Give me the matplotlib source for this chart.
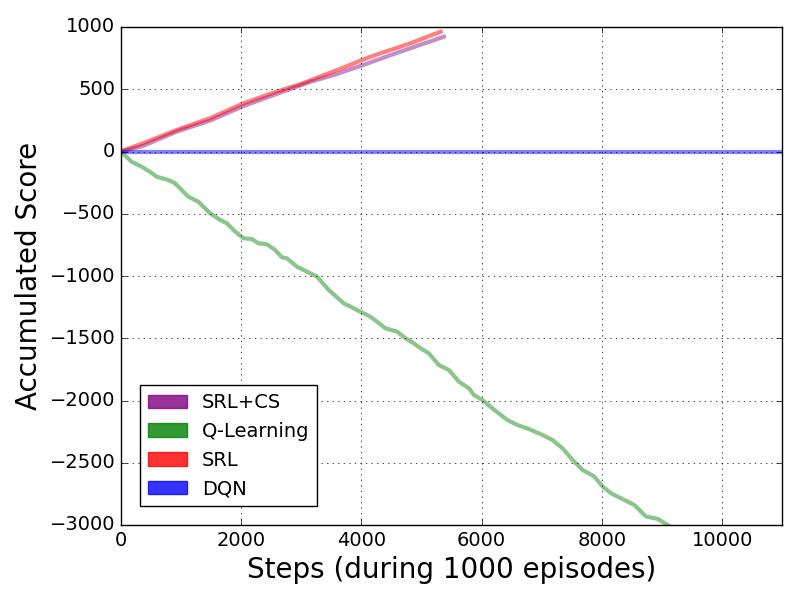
import numpy as np
import matplotlib
matplotlib.use('Agg')
import matplotlib.pyplot as plt
import matplotlib.patches as mpatches

plt.style.use('classic')

# accumulated score curves
srl_cs_x = [0, 370, 928, 1483, 2039, 2594, 3150, 3539, 3983, 4261, 4650, 4817, 5372]
srl_cs_y = [0, 45, 160, 248, 365, 463, 560, 614, 687, 735, 802, 830, 922]

ql_x = [0, 178, 345, 483, 594, 789, 900, 1011, 1122, 1289, 1483, 1650, 1761,
        1900, 2039, 2178, 2289, 2428, 2567, 2678, 2761, 2928, 3150, 3261,
        3456, 3706, 3928, 4150, 4261, 4400, 4594, 4733, 4844, 5011, 5122,
        5289, 5456, 5622, 5789, 5872, 6011, 6178, 6428, 6594, 6761, 7011,
        7178, 7344, 7511, 7678, 7872, 8011, 8150, 8372, 8539, 8733, 8928,
        9094, 9150]
ql_y = [0, -82, -122, -162, -202, -229, -255, -309, -363, -403, -496, -549,
        -576, -643, -697, -703, -737, -745, -791, -850, -858, -925, -978,
        -1005, -1112, -1219, -1273, -1327, -1367, -1420, -1447, -1500, -1532,
        -1589, -1621, -1715, -1755, -1849, -1902, -1956, -1996, -2063, -2157,
        -2197, -2224, -2277, -2317, -2384, -2477, -2558, -2611, -2691, -2745,
        -2799, -2839, -2932, -2951, -3000, -3020]

srl_x = [0, 370, 928, 1483, 2039, 2594, 2983, 3706, 4011, 4261, 4650, 4817, 5317]
srl_y = [0, 66, 173, 267, 387, 482, 540, 675, 735, 780, 842, 870, 962]

dqn_x = [0, 12000]
dqn_y = [0, 0]

labels = ['SRL+CS', 'Q-Learning', 'SRL', 'DQN']
colors = ['purple', 'g', 'r', 'b']

fig = plt.figure(figsize=(8, 6), dpi=100)
ax = fig.add_subplot(111)
fig.subplots_adjust(left=0.151, right=0.978, top=0.955, bottom=0.125)

ax.plot(srl_cs_x, srl_cs_y, color='purple', alpha=0.45, lw=3)
ax.plot(ql_x, ql_y, color='g', alpha=0.45, lw=3)
ax.plot(srl_x, srl_y, color='r', alpha=0.5, lw=3)
ax.plot(dqn_x, dqn_y, color='b', alpha=0.5, lw=3)

ax.set_xlim(0, 11000)
ax.set_ylim(-3000, 1000)
ax.grid(True)
ax.tick_params(labelsize=14)
ax.set_xlabel('Steps (during 1000 episodes)', fontsize=20)
ax.set_ylabel('Accumulated Score', fontsize=20)

handles = [mpatches.Patch(color=c, alpha=0.8, label=l) for c, l in zip(colors, labels)]
ax.legend(handles=handles, loc='lower left', bbox_to_anchor=(0.029, 0.038),
          borderaxespad=0, fontsize=14)

fig.savefig('out.png', dpi=100)
